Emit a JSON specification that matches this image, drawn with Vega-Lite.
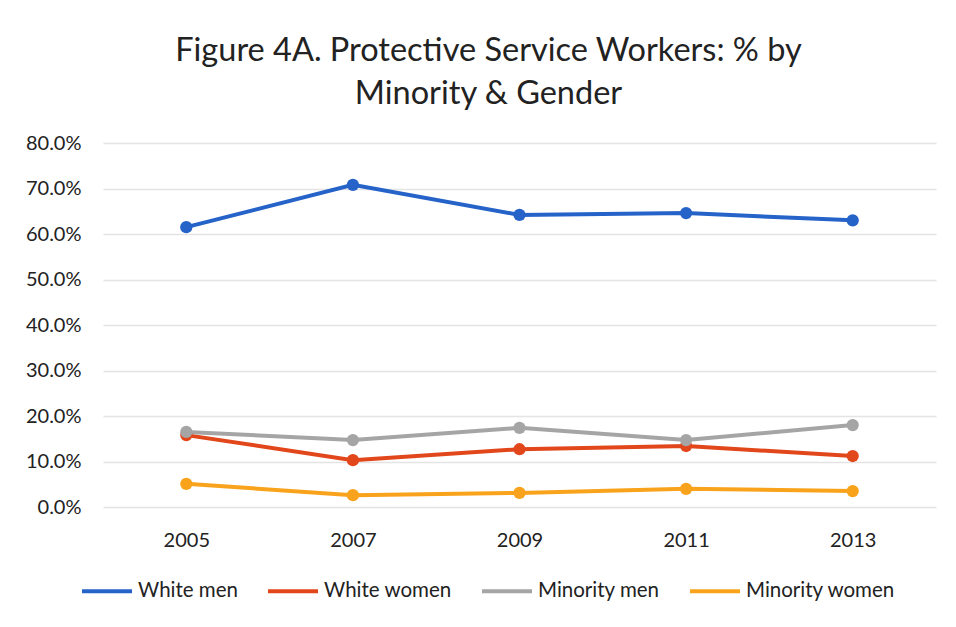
{
  "$schema": "https://vega.github.io/schema/vega-lite/v6.json",
  "width": 833,
  "height": 364,
  "autosize": "none",
  "padding": {"left": 103, "top": 143, "right": 20, "bottom": 120},
  "background": "white",
  "title": {
    "text": ["Figure 4A. Protective Service Workers: % by", "Minority & Gender"],
    "font": "Lato",
    "fontSize": 32.5,
    "fontWeight": "normal",
    "color": "#222222",
    "lineHeight": 43,
    "anchor": "middle",
    "dx": -31,
    "offset": 23
  },
  "data": {
    "values": [
      {"year": "2005", "group": "White men", "pct": 0.615},
      {"year": "2007", "group": "White men", "pct": 0.708},
      {"year": "2009", "group": "White men", "pct": 0.642},
      {"year": "2011", "group": "White men", "pct": 0.646},
      {"year": "2013", "group": "White men", "pct": 0.630},
      {"year": "2005", "group": "White women", "pct": 0.158},
      {"year": "2007", "group": "White women", "pct": 0.103},
      {"year": "2009", "group": "White women", "pct": 0.127},
      {"year": "2011", "group": "White women", "pct": 0.134},
      {"year": "2013", "group": "White women", "pct": 0.112},
      {"year": "2005", "group": "Minority men", "pct": 0.165},
      {"year": "2007", "group": "Minority men", "pct": 0.147},
      {"year": "2009", "group": "Minority men", "pct": 0.174},
      {"year": "2011", "group": "Minority men", "pct": 0.147},
      {"year": "2013", "group": "Minority men", "pct": 0.180},
      {"year": "2005", "group": "Minority women", "pct": 0.051},
      {"year": "2007", "group": "Minority women", "pct": 0.026},
      {"year": "2009", "group": "Minority women", "pct": 0.031},
      {"year": "2011", "group": "Minority women", "pct": 0.040},
      {"year": "2013", "group": "Minority women", "pct": 0.035}
    ]
  },
  "mark": {"type": "line", "strokeWidth": 4, "point": {"size": 150, "filled": true}},
  "encoding": {
    "x": {
      "field": "year",
      "type": "ordinal",
      "scale": {"type": "point", "padding": 0.5},
      "axis": {
        "title": null,
        "labelAngle": 0,
        "labelFont": "Lato",
        "labelFontSize": 20,
        "labelColor": "#222222",
        "labelPadding": 23,
        "ticks": false,
        "domain": false,
        "grid": false
      }
    },
    "y": {
      "field": "pct",
      "type": "quantitative",
      "scale": {"domain": [0, 0.8], "nice": false},
      "axis": {
        "title": null,
        "format": ".1%",
        "values": [0, 0.1, 0.2, 0.3, 0.4, 0.5, 0.6, 0.7, 0.8],
        "labelFont": "Lato",
        "labelFontSize": 20,
        "labelColor": "#222222",
        "labelPadding": 22,
        "ticks": false,
        "domain": false,
        "gridColor": "#e4e4e4",
        "gridWidth": 1.5
      }
    },
    "color": {
      "field": "group",
      "type": "nominal",
      "scale": {
        "domain": ["White men", "White women", "Minority men", "Minority women"],
        "range": ["#2563c9", "#e2471c", "#a5a5a5", "#f9a31c"]
      },
      "legend": {
        "title": null,
        "orient": "none",
        "direction": "horizontal",
        "columns": 4,
        "legendX": -23,
        "legendY": 421,
        "symbolType": "stroke",
        "symbolSize": 2500,
        "symbolStrokeWidth": 4,
        "labelFont": "Lato",
        "labelFontSize": 20.5,
        "labelColor": "#222222",
        "labelOffset": 4,
        "columnPadding": 22
      }
    }
  },
  "config": {"view": {"stroke": null}}
}
